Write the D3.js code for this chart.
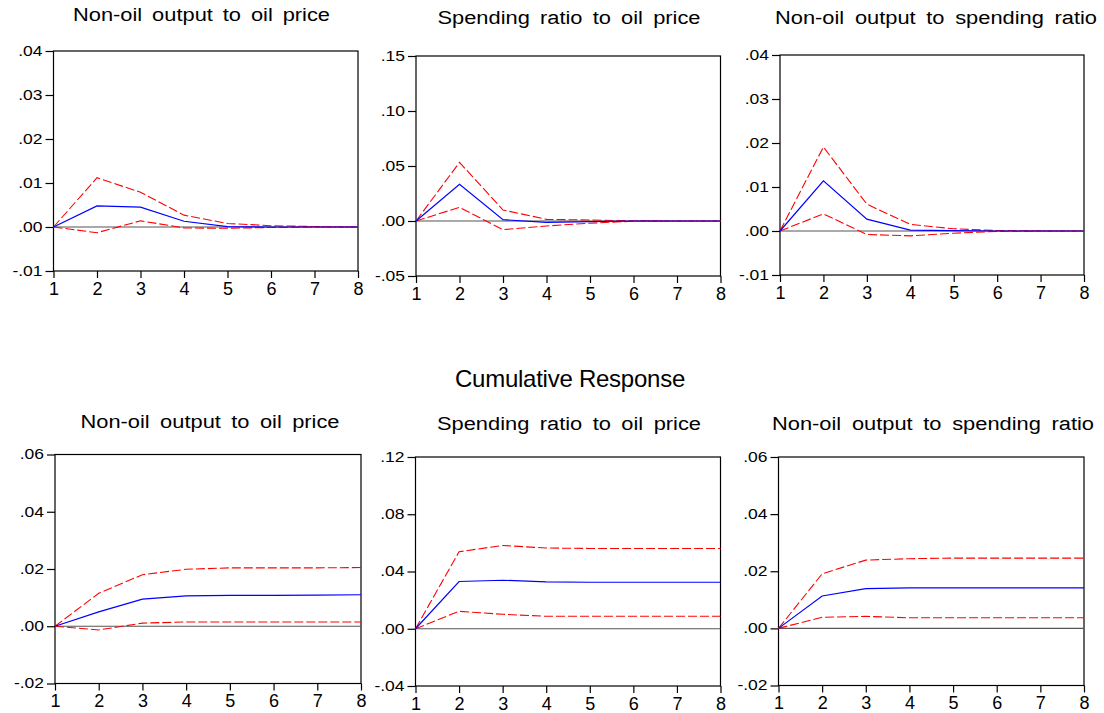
<!DOCTYPE html>
<html>
<head>
<meta charset="utf-8">
<script src="https://cdn.jsdelivr.net/npm/d3@7"></script>
<style>
  body { margin: 0; background: #fff; }
  svg text { font-family: "Liberation Sans", Arial, sans-serif; fill: #000; }
</style>
</head>
<body>
<svg id="chart" width="1104" height="713"></svg>
<script>
// horizons
const periods = [1, 2, 3, 4, 5, 6, 7, 8];

// response (blue), upper and lower bands (red dashed)
const oilOutResp  = [0, 0.0048, 0.0045, 0.0013, 0.0001, 0, 0, 0];
const oilOutUp    = [0, 0.0112, 0.0079, 0.0027, 0.0008, 0.0003, 0.0001, 0];
const oilOutLow   = [0, -0.0013, 0.0014, -0.0002, -0.0003, -0.0001, 0, 0];

const oilSpendResp = [0, 0.0333, 0.0012, -0.0012, -0.0006, 0, 0, 0];
const oilSpendUp   = [0, 0.0533, 0.0100, 0.0015, 0.0009, 0.0002, 0, 0];
const oilSpendLow  = [0, 0.0124, -0.0079, -0.0045, -0.0020, -0.0002, 0, 0];

const spendOutResp = [0, 0.0114, 0.0027, 0.0002, 0.0001, 0, 0, 0];
const spendOutUp   = [0, 0.0191, 0.0061, 0.0015, 0.0005, 0.0001, 0, 0];
const spendOutLow  = [0, 0.0039, -0.0008, -0.0011, -0.0005, -0.0001, 0, 0];

// cumulative
const cumOilOutResp  = [0, 0.0050, 0.0095, 0.0106, 0.0108, 0.0108, 0.0109, 0.0110];
const cumOilOutUp    = [0, 0.0115, 0.0180, 0.0199, 0.0204, 0.0204, 0.0204, 0.0205];
const cumOilOutLow   = [0, -0.0013, 0.0011, 0.0015, 0.0015, 0.0015, 0.0015, 0.0015];

const cumOilSpendResp = [0, 0.0330, 0.0339, 0.0327, 0.0325, 0.0325, 0.0325, 0.0325];
const cumOilSpendUp   = [0, 0.0538, 0.0582, 0.0564, 0.0561, 0.0561, 0.0561, 0.0561];
const cumOilSpendLow  = [0, 0.0122, 0.0101, 0.0087, 0.0087, 0.0087, 0.0087, 0.0087];

const cumSpendOutResp = [0, 0.01135, 0.0139, 0.01415, 0.01415, 0.01415, 0.01415, 0.01415];
const cumSpendOutUp   = [0, 0.0191, 0.0239, 0.0244, 0.0246, 0.0246, 0.0246, 0.0246];
const cumSpendOutLow  = [0, 0.0039, 0.0042, 0.0037, 0.0037, 0.0037, 0.0037, 0.0037];

// y tick values
const ticksA = [-0.01, 0, 0.01, 0.02, 0.03, 0.04];
const ticksB = [-0.05, 0, 0.05, 0.10, 0.15];
const ticksC = [-0.02, 0, 0.02, 0.04, 0.06];
const ticksD = [-0.04, 0, 0.04, 0.08, 0.12];

// box = [left, top, right, bottom]; tx/ty/tw = title centre, baseline, width
const panels = [
  { title: 'Non-oil output to oil price', box: [53.5, 51, 358, 271], ticks: ticksA, tx: 201.5, ty: 21, tw: 257,
    resp: oilOutResp, up: oilOutUp, low: oilOutLow },
  { title: 'Spending ratio to oil price', box: [416, 56, 720.5, 276], ticks: ticksB, tx: 569, ty: 24, tw: 263,
    resp: oilSpendResp, up: oilSpendUp, low: oilSpendLow },
  { title: 'Non-oil output to spending ratio', box: [780, 55, 1084, 275], ticks: ticksA, tx: 936, ty: 24, tw: 322,
    resp: spendOutResp, up: spendOutUp, low: spendOutLow },
  { title: 'Non-oil output to oil price', box: [55, 454.5, 361, 683.5], ticks: ticksC, tx: 210, ty: 428, tw: 259,
    resp: cumOilOutResp, up: cumOilOutUp, low: cumOilOutLow },
  { title: 'Spending ratio to oil price', box: [415.5, 457, 720.5, 686], ticks: ticksD, tx: 569, ty: 430, tw: 264,
    resp: cumOilSpendResp, up: cumOilSpendUp, low: cumOilSpendLow },
  { title: 'Non-oil output to spending ratio', box: [778.5, 457, 1084, 685.5], ticks: ticksC, tx: 933, ty: 430, tw: 322,
    resp: cumSpendOutResp, up: cumSpendOutUp, low: cumSpendOutLow }
];

const svg = d3.select('#chart');

svg.append('text')
  .attr('x', 570).attr('y', 386.5)
  .attr('text-anchor', 'middle')
  .style('font-size', '24px')
  .style('letter-spacing', '-0.25px')
  .text('Cumulative Response');

const fmt = v => {
  if (Math.abs(v) < 1e-9) return '.00';
  const s = d3.format('.2f')(Math.abs(v)).replace(/^0/, '');
  return (v < 0 ? '-' : '') + s;
};

const yStretch = 1.25;
const titleStretch = 1.15;

panels.forEach(p => {
  const [x0, y0, x1, y1] = p.box;
  const xScale = d3.scaleLinear().domain([1, 8]).range([x0, x1]);
  const yScale = d3.scaleLinear().domain([p.ticks[0], p.ticks[p.ticks.length - 1]]).range([y1, y0]);

  const g = svg.append('g');

  // title: slightly wide glyphs, word gaps fitted to the original width
  const t = g.append('text')
    .attr('transform', `translate(${p.tx},${p.ty}) scale(${titleStretch},1)`)
    .attr('text-anchor', 'middle')
    .style('font-size', '19px')
    .text(p.title);
  const base = t.node().getComputedTextLength();
  const gaps = p.title.split(' ').length - 1;
  t.style('word-spacing', ((p.tw / titleStretch - base) / gaps) + 'px');

  const yAxis = g.append('g')
    .attr('transform', `translate(${x0},0)`)
    .call(d3.axisLeft(yScale).tickValues(p.ticks).tickFormat(fmt).tickSize(8).tickPadding(3));
  const xAxis = g.append('g')
    .attr('transform', `translate(0,${y1})`)
    .call(d3.axisBottom(xScale).tickValues(periods).tickFormat(d3.format('d')).tickSize(7).tickPadding(4));

  [yAxis, xAxis].forEach(a => {
    a.attr('font-size', null).attr('font-family', null);
    a.select('.domain').remove();
    a.selectAll('line').attr('stroke', '#000').attr('stroke-width', 1.2);
  });
  yAxis.selectAll('text')
    .style('font-size', '14px')
    .attr('x', -11 / yStretch)
    .attr('transform', `scale(${yStretch},1)`);
  xAxis.selectAll('text')
    .style('font-size', '18px');

  g.append('rect')
    .attr('x', x0).attr('y', y0)
    .attr('width', x1 - x0).attr('height', y1 - y0)
    .attr('fill', 'none').attr('stroke', '#000').attr('stroke-width', 1.2);

  g.append('line')
    .attr('x1', x0).attr('x2', x1)
    .attr('y1', yScale(0)).attr('y2', yScale(0))
    .attr('stroke', '#555').attr('stroke-width', 1.2);

  const line = d3.line()
    .x((d, i) => xScale(periods[i]))
    .y(d => yScale(d));

  [p.up, p.low].forEach(band => {
    g.append('path')
      .attr('d', line(band))
      .attr('fill', 'none')
      .attr('stroke', '#ff0000')
      .attr('stroke-width', 1.1)
      .attr('stroke-dasharray', '9,3');
  });

  g.append('path')
    .attr('d', line(p.resp))
    .attr('fill', 'none')
    .attr('stroke', '#0000ff')
    .attr('stroke-width', 1.2);
});
</script>
</body>
</html>
